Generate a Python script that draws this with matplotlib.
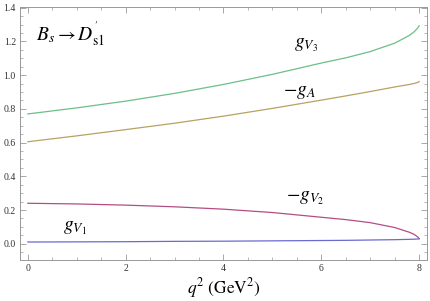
import matplotlib
matplotlib.use("Agg")
import matplotlib.pyplot as plt
from matplotlib.ticker import MultipleLocator

plt.rcParams['mathtext.fontset'] = 'stix'
plt.rcParams['font.family'] = ['Liberation Serif', 'DejaVu Serif']

q2 = [0, 1, 2, 3, 4, 5, 6, 6.5, 7, 7.5, 7.8, 7.9, 7.97, 8.0]
gV3 = [0.770, 0.806, 0.846, 0.892, 0.945, 1.005, 1.072, 1.103, 1.140, 1.190, 1.236, 1.258, 1.280, 1.293]
mgA = [0.605, 0.640, 0.677, 0.715, 0.757, 0.803, 0.852, 0.877, 0.903, 0.930, 0.945, 0.951, 0.957, 0.962]
mgV2 = [0.240, 0.236, 0.229, 0.219, 0.205, 0.185, 0.157, 0.143, 0.125, 0.096, 0.068, 0.055, 0.040, 0.030]
gV1 = [0.010, 0.011, 0.012, 0.014, 0.015, 0.017, 0.019, 0.020, 0.022, 0.024, 0.026, 0.027, 0.028, 0.029]

fig = plt.figure(figsize=(4.31, 3.01), dpi=100)
ax = fig.add_axes([0.0464, 0.136, 0.9443, 0.841])

ax.plot(q2, gV3, color='#6cbf88', lw=0.9)
ax.plot(q2, mgA, color='#b8a262', lw=0.9)
ax.plot(q2, mgV2, color='#b34d84', lw=0.9)
ax.plot(q2, gV1, color='#6a6ad0', lw=0.9)

ax.set_xlim(-0.16, 8.16)
ax.set_ylim(-0.097, 1.405)

ax.xaxis.set_major_locator(MultipleLocator(2))
ax.xaxis.set_minor_locator(MultipleLocator(0.5))
ax.yaxis.set_major_locator(MultipleLocator(0.2))
ax.yaxis.set_minor_locator(MultipleLocator(0.05))
ax.tick_params(which='both', direction='in', top=True, right=True, color='#999999', labelsize=7, labelcolor='#333333', pad=3)
ax.tick_params(which='major', length=4, width=0.6)
ax.tick_params(which='minor', length=2, width=0.5)
ax.set_yticks([0.0, 0.2, 0.4, 0.6, 0.8, 1.0, 1.2, 1.4])
ax.set_yticklabels(['0.0', '0.2', '0.4', '0.6', '0.8', '1.0', '1.2', '1.4'])
for s in ax.spines.values():
    s.set_color('#999999')
    s.set_linewidth(0.7)

ax.text(0.17, 1.24, r"$B_s \rightarrow D^{'}_{\mathrm{s}1}$", fontsize=14, va='center', ha='left')
ax.text(5.45, 1.18, r"$g_{V_3}$", fontsize=14, va='center', ha='left')
ax.text(5.22, 0.90, r"$-g_{A}$", fontsize=14, va='center', ha='left')
ax.text(5.28, 0.27, r"$-g_{V_2}$", fontsize=14, va='center', ha='left')
ax.text(0.72, 0.095, r"$g_{V_1}$", fontsize=14, va='center', ha='left')

ax.set_xlabel(r"$q^2\ (\mathrm{GeV}^2)$", fontsize=12.5, labelpad=2)

fig.savefig("out.png", dpi=100)
